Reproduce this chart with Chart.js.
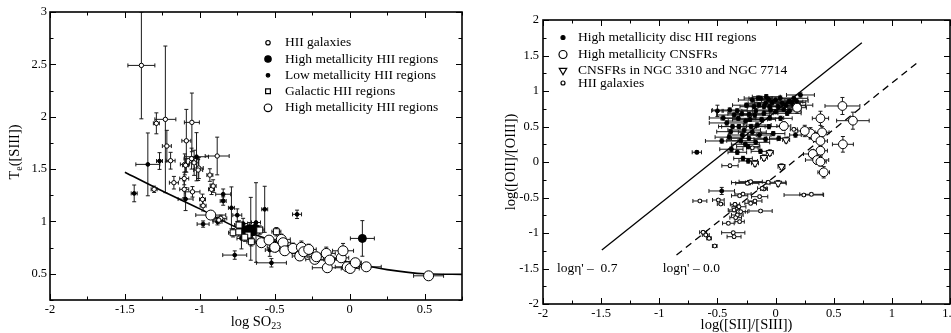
<!DOCTYPE html>
<html><head><meta charset="utf-8">
<script src="https://cdn.jsdelivr.net/npm/chart.js@4.4.0/dist/chart.umd.min.js"></script>
<style>
html,body{margin:0;padding:0;background:#fff;overflow:hidden;width:951px;height:333px;}
#left{position:absolute;left:0;top:0;}
#right{position:absolute;left:475px;top:0;}
</style></head><body>
<canvas id="left" width="475" height="333"></canvas>
<canvas id="right" width="490" height="333"></canvas>
<script>
// ---------- LEFT PANEL DATA: [x, y, xerr, yerr] ----------
const leftHIIGalaxies = [
 [-1.39,2.49,0.09,0.51],[-1.23,1.975,0.07,0.70],[-1.29,1.937,0.02,0.10],[-1.22,1.72,0.03,0.15],
 [-1.09,1.77,0.03,0.30],[-1.053,1.946,0.05,0.28],[-0.884,1.625,0.08,0.18],[-1.195,1.58,0.03,0.08],
 [-1.10,1.545,0.03,0.10],[-1.055,1.60,0.05,0.10],[-1.038,1.56,0.03,0.12],[-1.007,1.51,0.03,0.10],
 [-1.305,1.307,0.02,0.03],[-1.173,1.37,0.03,0.06],[-1.104,1.41,0.03,0.06],[-1.104,1.307,0.03,0.08],
 [-1.095,1.536,0.02,0.06],[-1.049,1.283,0.05,0.05],[-1.011,1.491,0.03,0.10],[-0.982,1.211,0.02,0.05],
 [-0.978,1.15,0.02,0.05],[-0.933,1.443,0.02,0.06],[-0.922,1.307,0.02,0.05],[-0.911,1.338,0.02,0.06],
 [-0.86,1.03,0.04,0.03],[-0.873,1.013,0.04,0.03]
];
const leftHighMetFilled = [
 [-0.70,0.92,0.05,0.06],[-0.67,0.93,0.05,0.06],[-0.65,0.90,0.05,0.06],[-0.63,0.935,0.05,0.05],
 [-0.68,0.88,0.04,0.05],[0.085,0.838,0.08,0.17]
];
const leftLowMet = [
 [-1.347,1.545,0.08,0.30],[-1.269,1.577,0.02,0.08],[-1.022,1.618,0.08,0.23],[-1.438,1.268,0.02,0.08],
 [-1.095,1.214,0.05,0.11],[-0.844,1.26,0.05,0.05],[-0.844,1.195,0.02,0.04],[-0.978,0.975,0.04,0.03],
 [-0.882,0.997,0.03,0.03],[-0.789,1.13,0.02,0.20],[-0.75,1.06,0.03,0.06],[-0.567,1.116,0.02,0.22],
 [-0.351,1.068,0.03,0.04],[-0.767,0.679,0.08,0.04],[-0.522,0.605,0.10,0.04],[-0.533,0.727,0.03,0.06],
 [-0.722,0.838,0.03,0.10],[-0.711,0.98,0.03,0.05],[-0.625,0.99,0.03,0.38],[-0.66,0.93,0.03,0.30]
];
const leftGalactic = [
 [-0.778,0.892,0.03,0.04],[-0.738,0.966,0.03,0.04],[-0.678,0.87,0.03,0.04],[-0.656,0.806,0.03,0.04],
 [-0.60,0.918,0.03,0.04],[-0.489,0.902,0.03,0.04],[-0.74,0.90,0.03,0.04],[-0.70,0.85,0.03,0.04]
];
const leftHighMetOpen = [
 [-0.927,1.061,0.10,0.03],[-0.589,0.797,0.06,0.04],[-0.538,0.822,0.05,0.04],[-0.50,0.753,0.05,0.04],
 [-0.456,0.829,0.06,0.05],[-0.444,0.797,0.05,0.04],[-0.433,0.72,0.06,0.04],[-0.378,0.743,0.05,0.05],
 [-0.333,0.67,0.05,0.04],[-0.322,0.753,0.05,0.06],[-0.307,0.711,0.05,0.04],[-0.273,0.733,0.05,0.05],
 [-0.233,0.638,0.06,0.04],[-0.222,0.663,0.05,0.04],[-0.156,0.695,0.06,0.06],[-0.149,0.558,0.10,0.04],
 [-0.133,0.631,0.07,0.04],[-0.056,0.653,0.05,0.04],[-0.044,0.72,0.07,0.07],[-0.016,0.567,0.08,0.04],
 [0.004,0.551,0.06,0.04],[0.038,0.606,0.04,0.04],[0.111,0.567,0.10,0.03],[0.527,0.481,0.10,0.02]
];
const leftCurveX = [-1.5,-1.25,-1.0,-0.75,-0.5,-0.25,0,0.25,0.5,0.75];
const leftCurveY = [1.47,1.29,1.12,0.94,0.81,0.70,0.61,0.54,0.50,0.495];
const leftXTicks = [-2,-1.5,-1,-0.5,0,0.5];
const leftYTicks = [0.5,1,1.5,2,2.5,3];

// ---------- RIGHT PANEL DATA: [x, y, xerr, yerr] ----------
const rightDiscHII = [
 [-0.677,0.137,0.04,0.02],[-0.463,-0.408,0.11,0.05],[-0.463,0.296,0.14,0.03],[-0.394,0.732,0.15,0.03],
 [-0.32,0.615,0.15,0.03],[-0.229,0.672,0.12,0.03],[-0.257,0.577,0.15,0.03],[-0.186,0.779,0.12,0.03],
 [-0.129,0.897,0.10,0.03],[-0.086,0.827,0.15,0.03],[-0.043,0.732,0.12,0.03],[0.0,0.873,0.12,0.03],
 [0.057,0.827,0.10,0.03],[0.114,0.85,0.12,0.03],[0.157,0.897,0.12,0.03],[0.214,0.944,0.12,0.03],
 [-0.1,0.686,0.12,0.03],[0.0,0.709,0.10,0.03],[-0.314,0.498,0.15,0.03],[-0.286,0.38,0.12,0.03],
 [-0.229,0.334,0.15,0.03],[-0.171,0.277,0.12,0.03],[-0.086,0.32,0.10,0.03],[0.028,0.334,0.08,0.03],
 [0.171,0.38,0.05,0.03],[-0.329,0.137,0.08,0.03],[-0.235,0.216,0.10,0.03],[-0.235,0.014,0.08,0.03],
 [-0.386,0.427,0.12,0.03],[-0.357,0.662,0.15,0.03],[-0.158,0.521,0.12,0.03],[-0.057,0.498,0.12,0.03],
 [0.043,0.615,0.10,0.03],[0.1,0.686,0.12,0.03],[0.157,0.793,0.10,0.03],[-0.2,0.873,0.12,0.03],
 [-0.143,0.803,0.12,0.03],[-0.05,0.78,0.10,0.03],[-0.5,0.72,0.05,0.08],[-0.229,-0.29,0.03,0.03],
 [-0.45,0.62,0.12,0.03],[-0.42,0.55,0.15,0.03],[-0.37,0.50,0.12,0.03],[-0.33,0.72,0.13,0.03],
 [-0.27,0.45,0.14,0.03],[-0.25,0.80,0.12,0.03],[-0.22,0.60,0.15,0.03],[-0.20,0.42,0.12,0.03],
 [-0.18,0.66,0.13,0.03],[-0.15,0.90,0.12,0.03],[-0.12,0.60,0.12,0.03],[-0.10,0.78,0.14,0.03],
 [-0.08,0.92,0.12,0.03],[-0.05,0.62,0.12,0.03],[-0.03,0.84,0.15,0.03],[0.02,0.78,0.12,0.03],
 [0.04,0.90,0.12,0.03],[0.07,0.74,0.12,0.03],[0.09,0.80,0.12,0.03],[0.12,0.72,0.10,0.03],
 [0.14,0.84,0.12,0.03],[0.18,0.86,0.10,0.03],[0.20,0.80,0.12,0.03],[-0.30,0.30,0.12,0.03],
 [-0.26,0.25,0.12,0.03],[-0.14,0.38,0.10,0.03],[-0.40,0.35,0.12,0.03],[-0.02,0.40,0.10,0.03],
 [-0.13,0.15,0.08,0.03],[-0.28,0.05,0.08,0.03],[-0.38,0.18,0.10,0.03],[-0.17,0.72,0.12,0.03],
 [-0.06,0.88,0.10,0.03],[-0.29,0.68,0.12,0.03],[-0.21,0.50,0.12,0.03]
];
const rightCNSFR = [
 [0.575,0.789,0.15,0.12],[0.665,0.582,0.14,0.12],[0.579,0.249,0.09,0.11],[0.386,0.615,0.07,0.10],
 [0.40,0.418,0.06,0.08],[0.30,0.404,0.07,0.08],[0.343,0.347,0.05,0.06],[0.251,0.437,0.06,0.08],
 [0.386,0.296,0.06,0.08],[0.386,0.159,0.06,0.08],[0.32,0.113,0.08,0.06],[0.357,0.028,0.10,0.06],
 [0.386,0.004,0.05,0.06],[0.414,-0.145,0.05,0.08],[0.185,0.765,0.08,0.08],[0.071,0.507,0.06,0.06]
];
const rightNGC = [
 [0.091,0.31,0.03,0.04],[-0.049,0.131,0.03,0.04],[-0.1,0.061,0.03,0.04],[-0.177,-0.018,0.03,0.04],
 [0.051,-0.066,0.03,0.04],[0.022,-0.30,0.07,0.04]
];
const rightHIIGalaxies = [
 [-0.392,-0.052,0.07,0.02],[-0.229,-0.29,0.15,0.02],[-0.063,-0.286,0.15,0.02],[0.157,0.46,0.03,0.02],
 [-0.651,-0.549,0.06,0.02],[-0.492,-0.535,0.05,0.02],[-0.471,-0.592,0.03,0.02],[-0.243,-0.30,0.10,0.02],
 [-0.214,-0.277,0.10,0.02],[-0.1,-0.38,0.03,0.02],[-0.309,-0.475,0.07,0.02],[-0.28,-0.451,0.07,0.02],
 [-0.349,-0.596,0.04,0.02],[-0.315,-0.63,0.06,0.02],[-0.214,-0.582,0.05,0.02],[-0.177,-0.549,0.06,0.02],
 [-0.137,-0.488,0.07,0.02],[-0.357,-0.676,0.05,0.02],[-0.32,-0.70,0.08,0.02],[-0.30,-0.70,0.04,0.02],
 [-0.329,-0.746,0.05,0.02],[-0.309,-0.84,0.04,0.02],[-0.406,-0.863,0.05,0.02],[-0.343,-0.784,0.05,0.02],
 [-0.129,-0.69,0.10,0.02],[0.243,-0.465,0.17,0.02],[0.308,-0.455,0.10,0.02],[-0.623,-0.99,0.03,0.02],
 [-0.60,-1.028,0.03,0.02],[-0.572,-1.075,0.02,0.02],[-0.364,-0.996,0.10,0.02],[-0.357,-1.052,0.06,0.02],
 [-0.523,-1.183,0.02,0.02],[-0.115,-0.371,0.04,0.02],[-0.2,0.2,0.05,0.02]
];
const rightSolidLineX = [-1.494,0.742];
const rightSolidLineY = [-1.239,1.68];
const rightDashedLineX = [-0.852,1.237];
const rightDashedLineY = [-1.31,1.423];
const rightXTicks = [-2,-1.5,-1,-0.5,0,0.5,1,1.5];
const rightYTicks = [-2,-1.5,-1,-0.5,0,0.5,1,1.5,2];
const etaLabels = [{text:"log\u03b7' \u2013  0.7", x:-1.88, y:-1.5},{text:"log\u03b7' \u2013 0.0", x:-0.97, y:-1.5}];

// ---------- STYLES ----------
const FONT = "'Liberation Serif','Times New Roman',Times,serif";
Chart.defaults.font.family = FONT;
Chart.defaults.color = '#000';
Chart.defaults.animation = false;

const stOpenSmall = {pointStyle:'circle', pointRadius:2.2, pointBackgroundColor:'#fff', pointBorderColor:'#000', pointBorderWidth:1};
const stFilledSmall = {pointStyle:'circle', pointRadius:1.9, pointBackgroundColor:'#000', pointBorderColor:'#000', pointBorderWidth:1};
const stFilledBig = {pointStyle:'circle', pointRadius:4.0, pointBackgroundColor:'#000', pointBorderColor:'#000', pointBorderWidth:1};
const stSquare = {pointStyle:'rect', pointRadius:4.2, pointBackgroundColor:'#fff', pointBorderColor:'#000', pointBorderWidth:1};
const stOpenBigL = {pointStyle:'circle', pointRadius:5.0, pointBackgroundColor:'#fff', pointBorderColor:'#000', pointBorderWidth:1};
const stOpenBigR = {pointStyle:'circle', pointRadius:4.4, pointBackgroundColor:'#fff', pointBorderColor:'#000', pointBorderWidth:1};
const stTriangle = {pointStyle:'triangle', pointRotation:180, pointRadius:4.2, pointBackgroundColor:'#fff', pointBorderColor:'#000', pointBorderWidth:1};
const stOpenSmallR = {pointStyle:'circle', pointRadius:1.9, pointBackgroundColor:'#fff', pointBorderColor:'#000', pointBorderWidth:1};
const stFilledSmallR = {pointStyle:'circle', pointRadius:2.0, pointBackgroundColor:'#000', pointBorderColor:'#000', pointBorderWidth:1};

function scatterSet(label, arr, style, order){
  return Object.assign({type:'scatter', label, data: arr.map(p=>({x:p[0],y:p[1]})), errors: arr, order, showLine:false}, style);
}
function lineSet(label, xs, ys, order, extra){
  return Object.assign({type:'scatter', label, data: xs.map((x,i)=>({x, y: ys[i]})), order, showLine:true,
    pointRadius:0, borderColor:'#000', borderWidth:1.4, fill:false}, extra||{});
}

// ---------- PLUGINS ----------
const errorBars = {
  id:'errorBars',
  beforeDatasetsDraw(chart){
    const {ctx, chartArea:a, scales:{x, y}} = chart;
    ctx.save();
    ctx.beginPath(); ctx.rect(a.left, a.top, a.width, a.height); ctx.clip();
    ctx.strokeStyle = '#1a1a1a'; ctx.lineWidth = 1;
    const cap = 2;
    chart.data.datasets.forEach(ds => {
      if (!ds.errors) return;
      ds.errors.forEach(([xv, yv, xe, ye]) => {
        const px = x.getPixelForValue(xv), py = y.getPixelForValue(yv);
        ctx.beginPath();
        if (xe) {
          const l = x.getPixelForValue(xv - xe), r = x.getPixelForValue(xv + xe);
          ctx.moveTo(l, py); ctx.lineTo(r, py);
          ctx.moveTo(l, py - cap); ctx.lineTo(l, py + cap);
          ctx.moveTo(r, py - cap); ctx.lineTo(r, py + cap);
        }
        if (ye) {
          const t = y.getPixelForValue(yv + ye), b = y.getPixelForValue(yv - ye);
          ctx.moveTo(px, t); ctx.lineTo(px, b);
          ctx.moveTo(px - cap, t); ctx.lineTo(px + cap, t);
          ctx.moveTo(px - cap, b); ctx.lineTo(px + cap, b);
        }
        ctx.stroke();
      });
    });
    ctx.restore();
  }
};

const frameTicks = {
  id:'frameTicks',
  afterDatasetsDraw(chart){
    const {ctx, chartArea:a, scales:{x, y}} = chart;
    ctx.save();
    ctx.strokeStyle = '#000';
    ctx.lineWidth = 1;
    const major = 6, minor = 3.5;
    ctx.beginPath();
    for (let k = Math.round(x.min*4); k <= Math.round(x.max*4); k++) {
      const v = k/4, p = Math.round(x.getPixelForValue(v)) + 0.5, len = (k % 2 === 0) ? major : minor;
      ctx.moveTo(p, a.bottom); ctx.lineTo(p, a.bottom - len);
      ctx.moveTo(p, a.top); ctx.lineTo(p, a.top + len);
    }
    for (let k = Math.round(y.min*4); k <= Math.round(y.max*4); k++) {
      const v = k/4, p = Math.round(y.getPixelForValue(v)) + 0.5, len = (k % 2 === 0) ? major : minor;
      ctx.moveTo(a.left, p); ctx.lineTo(a.left + len, p);
      ctx.moveTo(a.right, p); ctx.lineTo(a.right - len, p);
    }
    ctx.stroke();
    ctx.lineWidth = 1.6;
    ctx.strokeRect(a.left, a.top, a.width, a.height);
    ctx.restore();
  }
};

function drawParts(ctx, parts, size, cx, cy, rot){
  ctx.save();
  ctx.translate(cx, cy);
  if (rot) ctx.rotate(rot);
  ctx.textBaseline = 'middle';
  ctx.textAlign = 'left';
  ctx.fillStyle = '#000';
  let total = 0;
  const subSize = Math.round(size*0.68);
  parts.forEach(p => { ctx.font = (p.sub ? subSize : size) + 'px ' + FONT; total += ctx.measureText(p.t).width; });
  let x = -total/2;
  parts.forEach(p => {
    ctx.font = (p.sub ? subSize : size) + 'px ' + FONT;
    ctx.fillText(p.t, x, p.sub ? size*0.32 : 0);
    x += ctx.measureText(p.t).width;
  });
  ctx.restore();
}

function drawLegend(ctx, items, symX, textX, rows, size){
  ctx.save();
  items.forEach((it, i) => {
    const yy = rows[i];
    ctx.fillStyle = it.style.pointBackgroundColor;
    ctx.strokeStyle = it.style.pointBorderColor;
    ctx.lineWidth = 1.2;
    Chart.helpers.drawPoint(ctx, {pointStyle: it.style.pointStyle, rotation: it.style.pointRotation || 0,
      radius: it.r, borderWidth: 1.2}, symX, yy);
    ctx.fillStyle = '#000';
    ctx.font = size + 'px ' + FONT;
    ctx.textBaseline = 'middle';
    ctx.textAlign = 'left';
    ctx.fillText(it.label, textX, yy);
  });
  ctx.restore();
}

const leftDecor = {
  id:'leftDecor',
  afterDraw(chart){
    const ctx = chart.ctx, a = chart.chartArea;
    drawParts(ctx, [{t:'T'},{t:'e',sub:true},{t:'([SIII])'}], 14.5, 15, (a.top+a.bottom)/2 - 4, -Math.PI/2);
    drawParts(ctx, [{t:'log SO'},{t:'23',sub:true}], 14.5, (a.left+a.right)/2, 322, 0);
    drawLegend(ctx, [
      {label:'HII galaxies', style:stOpenSmall, r:2.2},
      {label:'High metallicity HII regions', style:stFilledBig, r:3.2},
      {label:'Low metallicity HII regions', style:stFilledSmall, r:1.8},
      {label:'Galactic HII regions', style:stSquare, r:3.4},
      {label:'High metallicity HII regions', style:stOpenBigL, r:3.8}
    ], 268, 285, [42.7, 59, 75.3, 91.3, 107.8], 13.5);
  }
};

const rightDecor = {
  id:'rightDecor',
  afterDraw(chart){
    const ctx = chart.ctx, a = chart.chartArea, xs = chart.scales.x, ys = chart.scales.y;
    drawParts(ctx, [{t:'log([OII]/[OIII])'}], 14.5, 36, (a.top+a.bottom)/2, -Math.PI/2);
    drawParts(ctx, [{t:'log([SII]/[SIII])'}], 14.5, (a.left+a.right)/2, 325.5, 0);
    ctx.save();
    ctx.font = '13.5px ' + FONT; ctx.fillStyle = '#000'; ctx.textBaseline = 'middle'; ctx.textAlign = 'left';
    etaLabels.forEach(l => ctx.fillText(l.text, xs.getPixelForValue(l.x), ys.getPixelForValue(l.y)));
    ctx.restore();
    drawLegend(ctx, [
      {label:'High metallicity disc HII regions', style:stFilledSmallR, r:2.0},
      {label:'High metallicity CNSFRs', style:stOpenBigR, r:4.0},
      {label:'CNSFRs in NGC 3310 and NGC 7714', style:stTriangle, r:4.3},
      {label:'HII galaxies', style:stOpenSmallR, r:2.0}
    ], 88, 103, [37.5, 54.5, 70.5, 83], 13.5);
  }
};

function axis(min, max, tickVals, isY, size, pad, crossAlign){
  return {
    type:'linear', min, max,
    grid:{display:false, drawTicks:false},
    border:{display:false},
    ticks:{font:{size:12.5, family:FONT}, color:'#000', padding:pad, maxRotation:0, autoSkip:false,
      crossAlign: crossAlign || 'near', callback: v => String(v)},
    afterBuildTicks: s => { s.ticks = tickVals.map(v => ({value:v})); },
    afterFit: s => { if (isY) s.width = size; else s.height = size; }
  };
}

new Chart(document.getElementById('left'), {
  type:'scatter',
  data:{datasets:[
    lineSet('fit', leftCurveX, leftCurveY, 9, {cubicInterpolationMode:'monotone', borderWidth:1.6}),
    scatterSet('HII galaxies', leftHIIGalaxies, stOpenSmall, 2),
    scatterSet('High metallicity HII regions', leftHighMetFilled, stFilledBig, 4),
    scatterSet('Low metallicity HII regions', leftLowMet, stFilledSmall, 3),
    scatterSet('Galactic HII regions', leftGalactic, stSquare, 1),
    scatterSet('High metallicity HII regions (open)', leftHighMetOpen, stOpenBigL, 0)
  ]},
  options:{
    responsive:false, animation:false, events:[],
    layout:{padding:{left:0, right:13, top:12, bottom:0}},
    plugins:{legend:{display:false}, tooltip:{enabled:false}},
    scales:{
      x: axis(-2, 0.75, leftXTicks, false, 33, 2),
      y: axis(0.25, 3, leftYTicks, true, 50, 3)
    }
  },
  plugins:[errorBars, frameTicks, leftDecor]
});

new Chart(document.getElementById('right'), {
  type:'scatter',
  data:{datasets:[
    lineSet('solid', rightSolidLineX, rightSolidLineY, 9, {borderWidth:1.3}),
    lineSet('dashed', rightDashedLineX, rightDashedLineY, 9, {borderWidth:1.3, borderDash:[7,5]}),
    scatterSet('High metallicity disc HII regions', rightDiscHII, stFilledSmallR, 3),
    scatterSet('High metallicity CNSFRs', rightCNSFR, stOpenBigR, 0),
    scatterSet('CNSFRs in NGC 3310 and NGC 7714', rightNGC, stTriangle, 1),
    scatterSet('HII galaxies', rightHIIGalaxies, stOpenSmallR, 2)
  ]},
  options:{
    responsive:false, animation:false, events:[],
    layout:{padding:{left:0, right:15, top:20, bottom:0}},
    plugins:{legend:{display:false}, tooltip:{enabled:false}},
    scales:{
      x: axis(-2, 1.5, rightXTicks, false, 29, 2),
      y: axis(-2, 2, rightYTicks, true, 68, 4)
    }
  },
  plugins:[errorBars, frameTicks, rightDecor]
});
</script>
</body></html>
